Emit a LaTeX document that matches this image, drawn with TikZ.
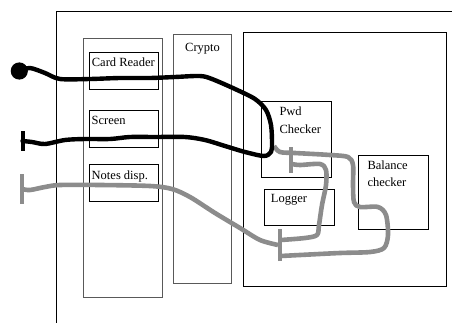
\documentclass[tikz,border=0pt]{standalone}
\usepackage{fontspec}
\setmainfont{Liberation Serif}
\begin{document}
\begin{tikzpicture}[x=1pt,y=-1pt,
  box/.style={draw=black, line width=0.8pt, anchor=north west, inner sep=0pt},
  col/.style={draw=black!65, line width=0.8pt, anchor=north west, inner sep=0pt},
  lbl/.style={anchor=base west, inner sep=0pt, font=\fontsize{12.5}{14}\selectfont},
  bwire/.style={line width=4.4pt, black, line cap=round, line join=round},
  gwire/.style={line width=4.6pt, black!45, line cap=butt, line join=round},
  gbar/.style={line width=4pt, black!45}]
\useasboundingbox (0,0) rectangle (452,323);
\fill[white] (0,0) rectangle (452,323);
% outer frame
\coordinate (ftr) at (452,11);
\coordinate (ftl) at (56,11);
\coordinate (fbl) at (56,323);
\draw[line width=0.9pt] (ftr) -- (ftl) -- (fbl);
% left column and crypto
\node[col, minimum width=79pt, minimum height=259.6pt] (leftcol) at (82.7,37.7) {};
\node[col, minimum width=57.7pt, minimum height=248.7pt] (crypto) at (173.3,34) {};
\node[lbl] (cryptot) at (185,51.7) {Crypto};
% left boxes
\node[box, minimum width=69.6pt, minimum height=36.7pt] (card) at (88.7,52.3) {};
\node[lbl] (cardt) at (91.7,67) {Card Reader};
\node[box, minimum width=69.6pt, minimum height=36.7pt] (screen) at (88.7,110) {};
\node[lbl] (screent) at (91.5,124.3) {Screen};
\node[box, minimum width=69.6pt, minimum height=36.7pt] (notes) at (88.7,164.3) {};
\node[lbl] (notest) at (91.5,179) {Notes disp.};
% right big box
\node[box, minimum width=203pt, minimum height=254pt] (right) at (242.7,31.7) {};
\node[box, minimum width=69.7pt, minimum height=76pt] (pwd) at (261,100.7) {};
\node[lbl] (pwdt1) at (279.3,116) {Pwd};
\node[lbl] (pwdt2) at (279.3,133.3) {Checker};
\node[box, minimum width=69.4pt, minimum height=36.6pt] (logger) at (264.3,188.7) {};
\node[lbl] (loggert) at (270.7,202.7) {Logger};
\node[box, minimum width=70pt, minimum height=73.4pt] (balance) at (357.7,155.3) {};
\node[lbl] (balt1) at (367.3,170) {Balance};
\node[lbl] (balt2) at (367.3,186.7) {checker};
% end markers
\coordinate (ball) at (19.3,71);
\coordinate (tscreen) at (22.5,141);
\coordinate (tnotes) at (22,189);
\coordinate (junc) at (274,146);
\coordinate (tup) at (291,160);
\coordinate (tlow) at (279.5,245);
\fill (ball) circle (8.6pt);
\draw[line width=4pt] ([yshift=-10pt]tscreen) -- ([yshift=10pt]tscreen);
\draw[gbar] ([yshift=-14.5pt]tnotes) -- ([yshift=14.5pt]tnotes);
\draw[gbar] ([yshift=-13pt]tup) -- ([yshift=13pt]tup);
\draw[gbar] ([yshift=-16pt]tlow) -- ([yshift=16pt]tlow);
% gray wires
\draw[gwire] plot[smooth, tension=0.5] coordinates {(junc) (280,152) (295,153) (330,155) (348,157) (353,165) (353,185) (354,202) (360,207) (378,207) (386,215) (388,235) (384,248) (370,252) (340,253) (300,255) (281,256)};
\draw[gwire] plot[smooth, tension=0.5] coordinates {(292,164) (300,165) (320,164) (326,170) (326,185) (322,205) (319,225) (317,235) (305,238) (281,240)};
\draw[gwire] plot[smooth, tension=0.5] coordinates {(tnotes) (30,190) (45,187) (60,185) (100,185) (150,186) (172,189) (190,197) (215,213) (240,228) (260,240) (278,245)};
% black wire
\draw[bwire] plot[smooth, tension=0.5] coordinates {(ball) (30,68) (45,73) (60,79) (90,79) (120,78) (150,78) (175,77) (200,76) (212,79) (235,89) (255,99) (266,110) (271,125) (272,143) (271,152) (264,156) (245,152) (225,146) (205,140) (185,137) (155,137) (130,137) (110,139) (85,139) (65,140) (45,144) (32,142) (tscreen)};
\end{tikzpicture}
\end{document}
